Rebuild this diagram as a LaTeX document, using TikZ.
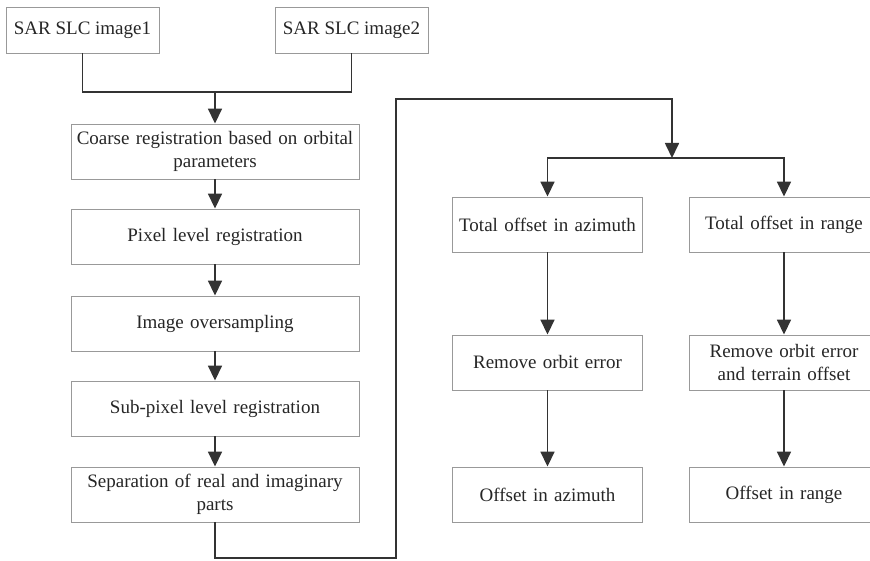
\documentclass[tikz,border=0pt]{standalone}
\usepackage{fontspec}
\setmainfont{Liberation Serif}
\usetikzlibrary{arrows.meta}

\begin{document}
\begin{tikzpicture}[x=1pt, y=-1pt,
  box/.style={draw=gray!80, line width=0.9pt, fill=white, align=center, inner sep=2pt, font=\fontsize{19}{23}\selectfont, text=black!85},
  wide/.style={box, minimum width=288pt, minimum height=55pt, text width=284pt},
  narrow/.style={box, minimum width=188pt, minimum height=55pt, text width=186pt},
  link/.style={line width=1.7pt, draw=black!80},
  flow/.style={link, -{Triangle[width=14pt,length=15pt]}}]

\useasboundingbox (0, 0) rectangle (870, 561);

\node[box, minimum width=153pt, minimum height=46pt] (img1) at (82.5, 30) {SAR SLC image1};
\node[box, minimum width=153pt, minimum height=46pt] (img2) at (351.5, 30) {SAR SLC image2};

\node[wide] (coarse) at (215, 151.5) {Coarse registration based on orbital\\parameters};
\node[wide] (pixel) at (215, 236.5) {Pixel level registration};
\node[wide] (overs) at (215, 323.5) {Image oversampling};
\node[wide] (subpix) at (215, 408.5) {Sub-pixel level registration};
\node[wide] (separ) at (215, 494.5) {Separation of real and imaginary\\parts};

\node[narrow] (totaz) at (547.5, 224.5) {Total offset in azimuth};
\node[narrow] (totrg) at (784, 224.5) {Total offset in range};
\node[narrow] (remaz) at (547.5, 362.5) {Remove orbit error};
\node[narrow] (remrg) at (784, 362.5) {Remove orbit error\\and terrain offset};
\node[narrow] (offaz) at (547.5, 494.5) {Offset in azimuth};
\node[narrow] (offrg) at (784, 494.5) {Offset in range};

\coordinate (join) at (215, 92);
\coordinate (low) at (396, 558);
\coordinate (high) at (396, 99);
\coordinate (split) at (672, 158);

\draw[link] (img1.south) |- (join) -| (img2.south);
\draw[flow] (join) -- (coarse);
\draw[flow] (coarse) -- (pixel);
\draw[flow] (pixel) -- (overs);
\draw[flow] (overs) -- (subpix);
\draw[flow] (subpix) -- (separ);

\draw[flow] (separ.south) |- (low) -- (high) -| (split);
\draw[flow] (split) -| (totaz.north);
\draw[flow] (split) -| (totrg.north);

\draw[flow] (totaz) -- (remaz);
\draw[flow] (remaz) -- (offaz);
\draw[flow] (totrg) -- (remrg);
\draw[flow] (remrg) -- (offrg);

\end{tikzpicture}
\end{document}
